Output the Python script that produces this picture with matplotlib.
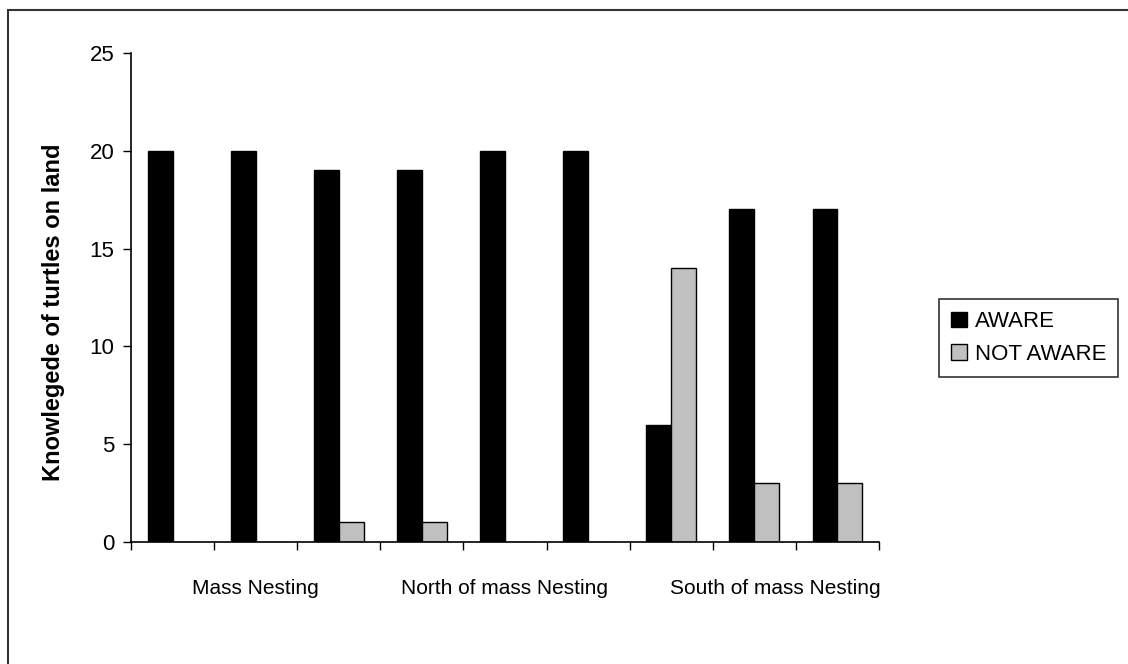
import numpy as np
import matplotlib
matplotlib.use('Agg')
import matplotlib.pyplot as plt
from matplotlib.patches import Rectangle

# data
aware = [20, 20, 19, 19, 20, 20, 6, 17, 17]
not_aware = [0, 0, 1, 1, 0, 0, 14, 3, 3]
groups = ['Mass Nesting', 'North of mass Nesting', 'South of mass Nesting']
y_ticks = [0, 5, 10, 15, 20, 25]

plt.rcParams['font.family'] = ['Liberation Sans', 'DejaVu Sans']

fig = plt.figure(figsize=(11.28, 6.64), dpi=100)
ax = fig.add_axes([131 / 1128, 1 - 542 / 664, 748 / 1128, 489 / 664])

# outer chart border (only top and left visible in the crop)
fig.patches.append(Rectangle((8 / 1128, -0.1), 1.2, 1 - 10 / 664 + 0.1,
                             transform=fig.transFigure, fill=False,
                             edgecolor='#333333', linewidth=1.5))

x = np.arange(len(aware))
w = 0.3
ax.bar(x - w / 2, aware, w, color='black', edgecolor='black', linewidth=1, label='AWARE')
ax.bar(x + w / 2, not_aware, w, color='#c0c0c0', edgecolor='black', linewidth=1, label='NOT AWARE')

ax.set_xlim(-0.5, len(aware) - 0.5)
ax.set_ylim(0, 25)
ax.set_yticks(y_ticks)
ax.tick_params(axis='y', direction='out', length=6, width=1, labelsize=16, pad=6)

# group labels centred on the middle bar of each group; boundary ticks as minor ticks
ax.set_xticks([1, 4, 7.25])
ax.set_xticklabels(groups, fontsize=15)
ax.tick_params(axis='x', which='major', length=0, pad=27)
ax.set_xticks(np.arange(-0.5, len(aware)), minor=True)
ax.tick_params(axis='x', which='minor', direction='out', length=6, width=1)

for s in ['top', 'right']:
    ax.spines[s].set_visible(False)
for s in ['left', 'bottom']:
    ax.spines[s].set_linewidth(1.2)

ax.set_ylabel('Knowlegede of turtles on land', fontsize=17, fontweight='bold')
ax.yaxis.set_label_coords(-0.088, 0.47)

leg = fig.legend(loc='center left', bbox_to_anchor=(939 / 1128, 1 - 338 / 664),
                 fontsize=16, frameon=True, fancybox=False, edgecolor='black',
                 handlelength=0.7, handleheight=0.7, handletextpad=0.35,
                 borderpad=0.55, labelspacing=0.5, borderaxespad=0)
leg.get_frame().set_linewidth(1.2)

fig.savefig('out.png', dpi=100)
